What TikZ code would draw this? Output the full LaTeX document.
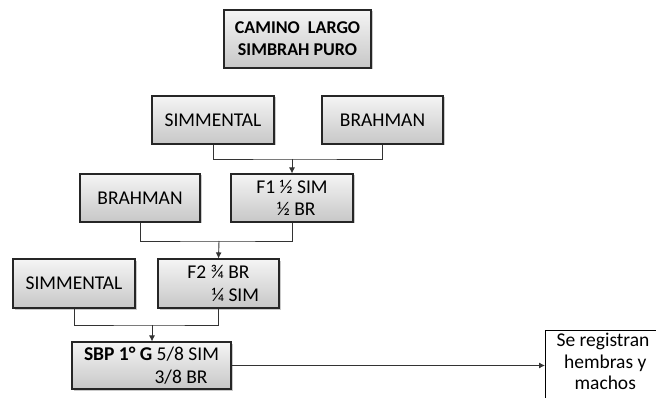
\documentclass[tikz,border=0pt]{standalone}
\usepackage{fontspec}
\setmainfont{Carlito}
\usetikzlibrary{shadows,arrows.meta}
\tikzset{
  gbox/.style={draw=black!85, line width=1.1pt, top color=white!96!black, bottom color=black!22,
    drop shadow={shadow xshift=1.5pt, shadow yshift=-1.5pt, opacity=0.35, fill=black!60},
    minimum height=48pt, inner sep=0pt, align=center, font=\fontsize{19.5}{22.5}\selectfont},
  wbox/.style={draw=black, line width=0.8pt, fill=white, inner sep=0pt},
  conn/.style={draw=black!80, line width=0.9pt},
  arr/.style={conn, -{Latex[length=6pt,width=6pt]}}
}
\begin{document}
\begin{tikzpicture}[x=1pt,y=-1pt]
\useasboundingbox (0,0) rectangle (656,398);
% title
\node[gbox, minimum width=147pt, minimum height=58pt, font=\fontsize{18}{22}\selectfont\bfseries] (title) at (297.5,39) {CAMINO\ \ LARGO\\SIMBRAH PURO};
% row 1
\node[gbox, minimum width=122pt] (sim1) at (213,120) {SIMMENTAL};
\node[gbox, minimum width=121pt] (bra1) at (382.5,120) {BRAHMAN};
% row 2
\node[gbox, minimum width=120pt] (bra2) at (140,198) {BRAHMAN};
\node[gbox, minimum width=122pt] (f1) at (292,198) {F1 ½ SIM\\\hphantom{x}½ BR};
% row 3
\node[gbox, minimum width=122pt, minimum height=49pt] (sim2) at (74,283.5) {SIMMENTAL};
\node[gbox, minimum width=121pt, minimum height=49pt] (f2) at (218.5,283.5) {F2 ¾ BR\\\hphantom{xxxx}¼ SIM};
% row 4
\node[gbox, minimum width=159pt, minimum height=47pt] (sbp) at (151.5,365.5) {\textbf{SBP 1° G} 5/8 SIM\\\hphantom{xxxxxxx}3/8 BR};
% result
\node[wbox, minimum width=120pt, minimum height=80pt, anchor=north west] (res) at (545,330) {};
\node[font=\fontsize{19.5}{21.5}\selectfont, align=center, anchor=north, inner sep=0pt] (restext) at (603,333) {Se registran\\\hphantom{i}hembras y\\\hphantom{i}machos};
% connectors
\coordinate (j1) at (292,159);
\draw[conn] (sim1.south) |- (j1) -| (bra1.south);
\draw[arr] (j1) -- (f1.north);
\coordinate (j2) at (219,241);
\draw[conn] (bra2.south) |- (j2) -| (f1.south);
\draw[arr] (j2) -- (f2.north);
\coordinate (j3) at (152,325);
\draw[conn] (sim2.south) |- (j3) -| (f2.south);
\draw[arr] (j3) -- (sbp.north -| j3);
\draw[arr] (sbp.east) -- (res.west |- sbp.east);
\end{tikzpicture}
\end{document}
